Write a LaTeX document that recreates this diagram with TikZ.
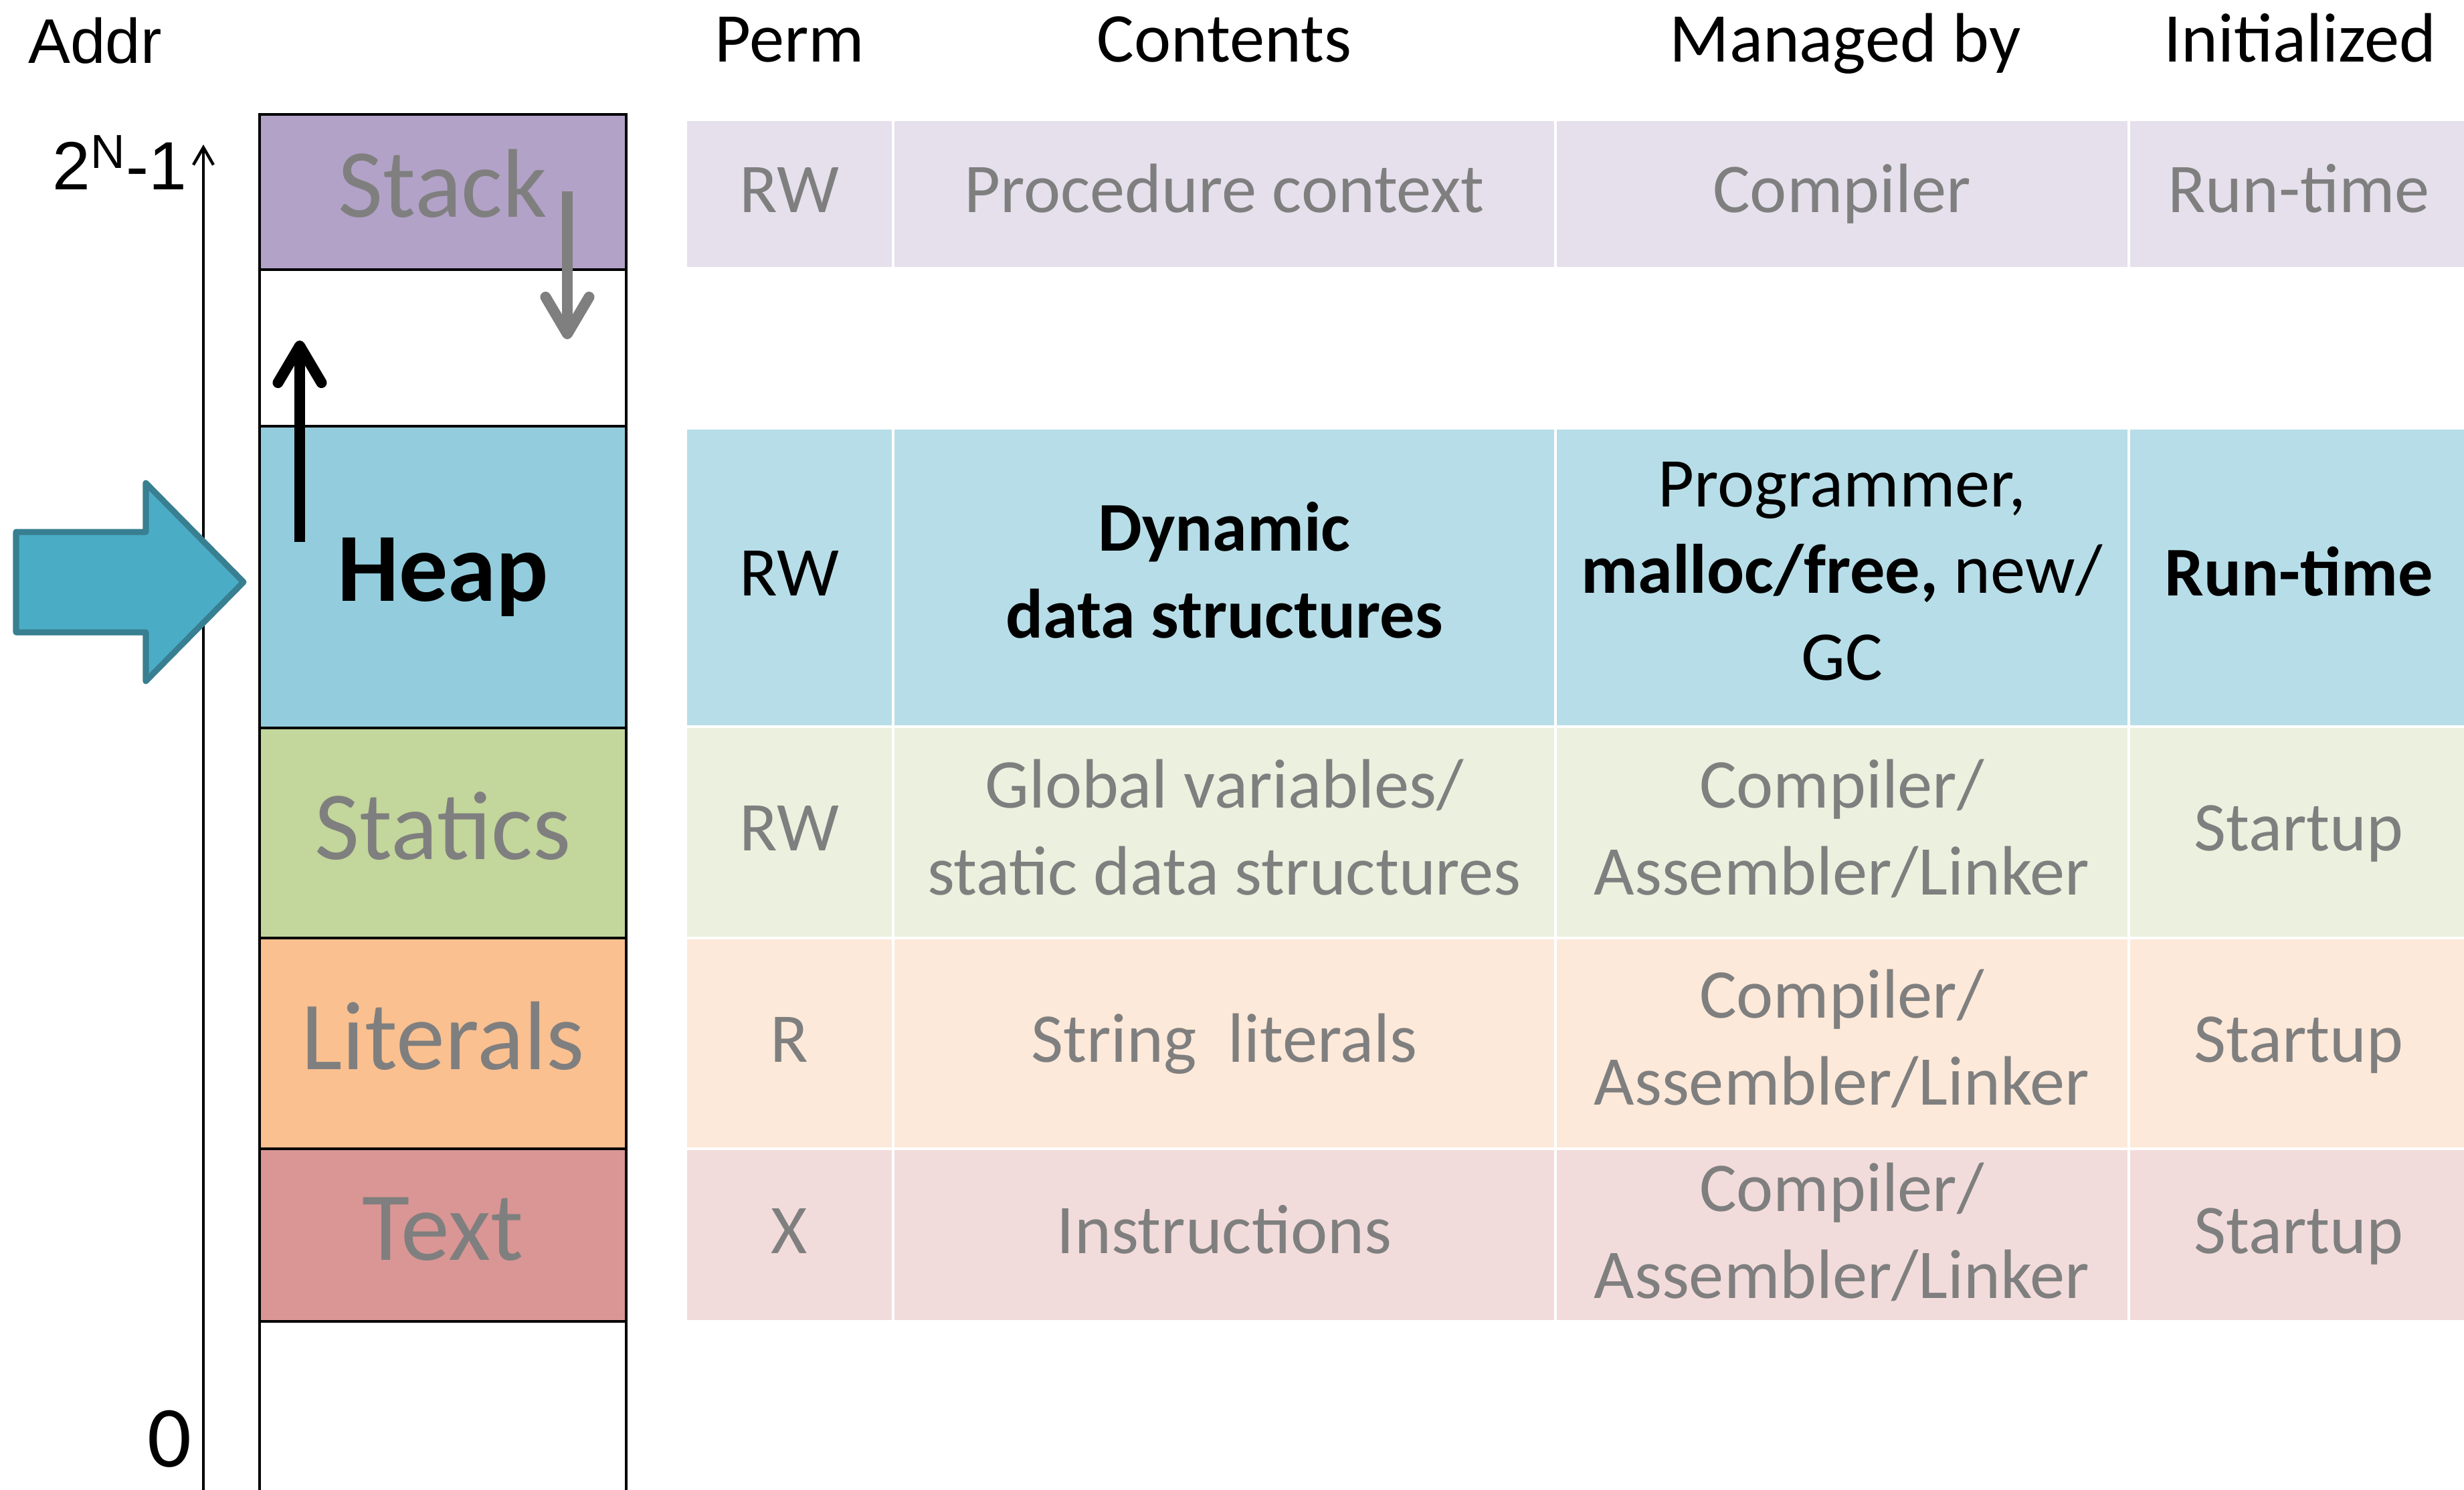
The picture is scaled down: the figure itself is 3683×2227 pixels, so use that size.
\documentclass[tikz,border=0pt]{standalone}
\usepackage{fontspec}
\setmainfont{Carlito}
\newfontfamily\arialfont{Liberation Sans}
\usetikzlibrary{arrows.meta}

\definecolor{stackmem}{HTML}{B2A2C7}
\definecolor{stackrow}{HTML}{E5E0EC}
\definecolor{heapmem}{HTML}{93CDDD}
\definecolor{heaprow}{HTML}{B7DEE8}
\definecolor{staticmem}{HTML}{C3D69B}
\definecolor{staticrow}{HTML}{EBF1DE}
\definecolor{litmem}{HTML}{FAC090}
\definecolor{litrow}{HTML}{FDE9D9}
\definecolor{textmem}{HTML}{D99694}
\definecolor{textrow}{HTML}{F2DCDB}
\definecolor{arrowfill}{HTML}{4BACC6}
\definecolor{arrowline}{HTML}{387F91}
\definecolor{textgray}{HTML}{7F7F7F}

\begin{document}
\begin{tikzpicture}[x=0.01cm, y=-0.01cm,
    seg_style/.style={draw=black, line width=1.3pt},
    cell_style/.style={draw=white, line width=0.045cm},
    mem_label/.style={anchor=base, inner sep=0pt, text=textgray, font=\fontsize{41.5}{50}\selectfont},
    cell_text/.style={anchor=base, inner sep=0pt, align=center, text=textgray, font=\fontsize{29.7}{36.7}\selectfont},
    head_text/.style={anchor=base, inner sep=0pt, font=\fontsize{29.7}{36.7}\selectfont},
    grow_style/.style={line width=0.16cm, -{Straight Barb[length=5.5mm, width=6.5mm, round]}},
    big_arrow/.style={fill=arrowfill, draw=arrowline, line width=0.09cm, line join=round}
]
    \useasboundingbox (0,0) rectangle (3683,2227);

    % Headings
    \node[head_text, anchor=base west, font=\arialfont\fontsize{26.8}{32}\selectfont] (addr) at (42,94) {Addr};
    \node[head_text] (perm) at (1180,93) {Perm};
    \node[head_text] (contents) at (1830,93) {Contents};
    \node[head_text] (managed) at (2758,93) {Managed by};
    \node[head_text] (initialized) at (3438,93) {Initialized};

    % Address axis
    \coordinate (addr_low) at (304,2240);
    \coordinate (addr_high) at (304,216);
    \draw[line width=1.25pt, -{Straight Barb[length=2.6mm, width=3mm]}] (addr_low) -- (addr_high);
    \node[anchor=base east, inner sep=0pt, font=\arialfont\fontsize{29}{36}\selectfont] (addr_max) at (280,283) {2\textsuperscript{N}-1};
    \node[anchor=base east, inner sep=0pt, font=\fontsize{37}{44}\selectfont] (addr_zero) at (287,2192) {0};

    % Memory segments
    \path[seg_style, fill=stackmem] (388,171) rectangle (936,403);
    \path[seg_style, fill=white] (388,403) rectangle (936,637);
    \path[seg_style, fill=heapmem] (388,637) rectangle (936,1088);
    \path[seg_style, fill=staticmem] (388,1088) rectangle (936,1402);
    \path[seg_style, fill=litmem] (388,1402) rectangle (936,1717);
    \path[seg_style, fill=textmem] (388,1717) rectangle (936,1975);
    \path[seg_style, fill=white] (388,1975) rectangle (936,2300);

    \node[mem_label] (stack) at (662,324) {Stack};
    \node[mem_label, text=black, font=\bfseries\fontsize{41.5}{50}\selectfont] (heap) at (662,898) {Heap};
    \node[mem_label] (statics) at (662,1284) {Statics};
    \node[mem_label] (literals) at (662,1598) {Literals};
    \node[mem_label] (text) at (662,1883) {Text};

    % Growth directions
    \coordinate (stack_from) at (848,286);
    \coordinate (stack_to) at (848,507);
    \coordinate (heap_from) at (448,810);
    \coordinate (heap_to) at (448,509);
    \draw[grow_style, textgray] (stack_from) -- (stack_to);
    \draw[grow_style, black] (heap_from) -- (heap_to);

    % Pointer to heap
    \draw[big_arrow] (24,795) -- (218,795) -- (218,722) -- (364,870) -- (218,1018) -- (218,945) -- (24,945) -- cycle;

    % Table rows
    \path[cell_style, fill=stackrow] (1025,179) rectangle (1335,401);
    \path[cell_style, fill=stackrow] (1335,179) rectangle (2325,401);
    \path[cell_style, fill=stackrow] (2325,179) rectangle (3182,401);
    \path[cell_style, fill=stackrow] (3182,179) rectangle (3700,401);

    \path[cell_style, fill=heaprow] (1025,640) rectangle (1335,1086);
    \path[cell_style, fill=heaprow] (1335,640) rectangle (2325,1086);
    \path[cell_style, fill=heaprow] (2325,640) rectangle (3182,1086);
    \path[cell_style, fill=heaprow] (3182,640) rectangle (3700,1086);

    \path[cell_style, fill=staticrow] (1025,1086) rectangle (1335,1402);
    \path[cell_style, fill=staticrow] (1335,1086) rectangle (2325,1402);
    \path[cell_style, fill=staticrow] (2325,1086) rectangle (3182,1402);
    \path[cell_style, fill=staticrow] (3182,1086) rectangle (3700,1402);

    \path[cell_style, fill=litrow] (1025,1402) rectangle (1335,1717);
    \path[cell_style, fill=litrow] (1335,1402) rectangle (2325,1717);
    \path[cell_style, fill=litrow] (2325,1402) rectangle (3182,1717);
    \path[cell_style, fill=litrow] (3182,1402) rectangle (3700,1717);

    \path[cell_style, fill=textrow] (1025,1717) rectangle (1335,1975);
    \path[cell_style, fill=textrow] (1335,1717) rectangle (2325,1975);
    \path[cell_style, fill=textrow] (2325,1717) rectangle (3182,1975);
    \path[cell_style, fill=textrow] (3182,1717) rectangle (3700,1975);

    % Stack row
    \node[cell_text] (stack_perm) at (1180,317) {RW};
    \node[cell_text] (stack_contents) at (1830,317) {Procedure context};
    \node[cell_text] (stack_managed) at (2753,317) {Compiler};
    \node[cell_text] (stack_init) at (3436,317) {Run-time};

    % Heap row (multi-line nodes sit on their last baseline)
    \node[cell_text, text=black] (heap_perm) at (1180,890) {RW};
    \node[cell_text, text=black, font=\bfseries\fontsize{29.7}{36.7}\selectfont] (heap_contents) at (1830,953) {Dynamic\\data structures};
    \node[cell_text, text=black] (heap_managed) at (2753,1016) {Programmer,\\\textbf{malloc/free,} new/\\GC};
    \node[cell_text, text=black, font=\bfseries\fontsize{29.7}{36.7}\selectfont] (heap_init) at (3436,890) {Run-time};

    % Statics row
    \node[cell_text] (static_perm) at (1180,1271) {RW};
    \node[cell_text] (static_contents) at (1830,1337) {Global variables/\\static data structures};
    \node[cell_text] (static_managed) at (2753,1337) {Compiler/\\Assembler/Linker};
    \node[cell_text] (static_init) at (3436,1271) {Startup};

    % Literals row
    \node[cell_text] (lit_perm) at (1180,1587) {R};
    \node[cell_text] (lit_contents) at (1830,1587) {String\ \ literals};
    \node[cell_text] (lit_managed) at (2753,1651) {Compiler/\\Assembler/Linker};
    \node[cell_text] (lit_init) at (3436,1587) {Startup};

    % Text row
    \node[cell_text] (text_perm) at (1180,1873) {X};
    \node[cell_text] (text_contents) at (1830,1873) {Instructions};
    \node[cell_text] (text_managed) at (2753,1940) {Compiler/\\Assembler/Linker};
    \node[cell_text] (text_init) at (3436,1873) {Startup};

\end{tikzpicture}
\end{document}
